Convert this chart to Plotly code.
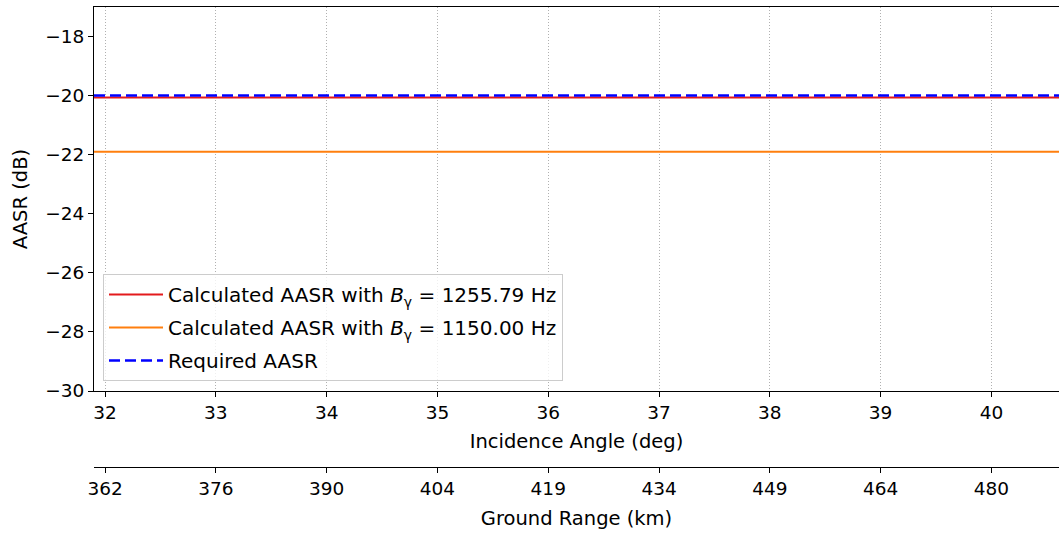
import plotly.graph_objects as go

# Data
incidence_deg = [31.9, 32, 33, 34, 35, 36, 37, 38, 39, 40, 40.61]
aasr_bw_1255 = [-20.06] * len(incidence_deg)
aasr_bw_1150 = [-21.9] * len(incidence_deg)
aasr_required = [-20.0] * len(incidence_deg)

angle_ticks = [32, 33, 34, 35, 36, 37, 38, 39, 40]
ground_range_labels = ["362", "376", "390", "404", "419", "434", "449", "464", "480"]
y_ticks = [-30, -28, -26, -24, -22, -20, -18]

W, H = 1059, 534
ml, mr, mt, mb = 94, 0, 7, 0
ph = H - mt - mb
y_dom_bottom = (H - 391) / ph
x2_pos = (H - 467) / ph

FONT = "DejaVu Sans"
TICK = 18.5
TITLE = 19.5

axis_common = dict(ticks="outside", ticklen=5, tickwidth=1, tickcolor="black",
                   showline=True, linecolor="black", linewidth=1.2, zeroline=False,
                   automargin=False, tickfont=dict(size=TICK))

fig = go.Figure()
fig.add_trace(go.Scatter(x=incidence_deg, y=aasr_bw_1255, mode="lines",
                         line=dict(color="#e31a1c", width=2), legendgroup="a",
                         name="Calculated AASR with <i>B</i><sub>γ</sub> = 1255.79 Hz"))
fig.add_trace(go.Scatter(x=incidence_deg, y=aasr_bw_1150, mode="lines",
                         line=dict(color="#ff7f0e", width=2), legendgroup="b",
                         name="Calculated AASR with <i>B</i><sub>γ</sub> = 1150.00 Hz"))
fig.add_trace(go.Scatter(x=incidence_deg, y=aasr_required, mode="lines",
                         line=dict(color="#0000ff", width=2.5, dash="11px,5px"), legendgroup="c",
                         name="Required AASR"))
# invisible trace for the secondary (ground range) axis
fig.add_trace(go.Scatter(x=incidence_deg, y=aasr_required, xaxis="x2", mode="lines",
                         line=dict(width=0), opacity=0, showlegend=False, hoverinfo="skip"))

fig.update_layout(
    width=W, height=H,
    margin=dict(l=ml, r=mr, t=mt, b=mb, autoexpand=False),
    plot_bgcolor="white", paper_bgcolor="white",
    font=dict(family=FONT, size=18, color="black"),
    showlegend=True,
    legend=dict(x=(103 - ml) / (W - ml), y=(H - 381) / ph, xanchor="left", yanchor="bottom",
                bgcolor="rgba(255,255,255,0.8)", bordercolor="#cccccc", borderwidth=1,
                font=dict(size=20), tracegroupgap=4, itemwidth=54),
    xaxis=dict(range=[31.9, 40.61], tickvals=angle_ticks, mirror=True,
               showgrid=True, gridcolor="#b0b0b0", griddash="1px,2px", gridwidth=1,
               anchor="y",
               title=dict(text="Incidence Angle (deg)", standoff=12, font=dict(size=TITLE)),
               **axis_common),
    xaxis2=dict(range=[31.9, 40.61], tickvals=angle_ticks, ticktext=ground_range_labels,
                overlaying="x", anchor="free", position=x2_pos, side="bottom",
                showgrid=False,
                title=dict(text="Ground Range (km)", standoff=13, font=dict(size=TITLE)),
                **axis_common),
    yaxis=dict(domain=[y_dom_bottom, 1], range=[-30, -17], tickvals=y_ticks, showgrid=False,
               title=dict(text="AASR (dB)", standoff=12, font=dict(size=TITLE)),
               **axis_common),
)

fig.write_html("out.html", config={"displayModeBar": False},
               post_script="document.body.style.margin='0';document.body.style.overflow='hidden';")
